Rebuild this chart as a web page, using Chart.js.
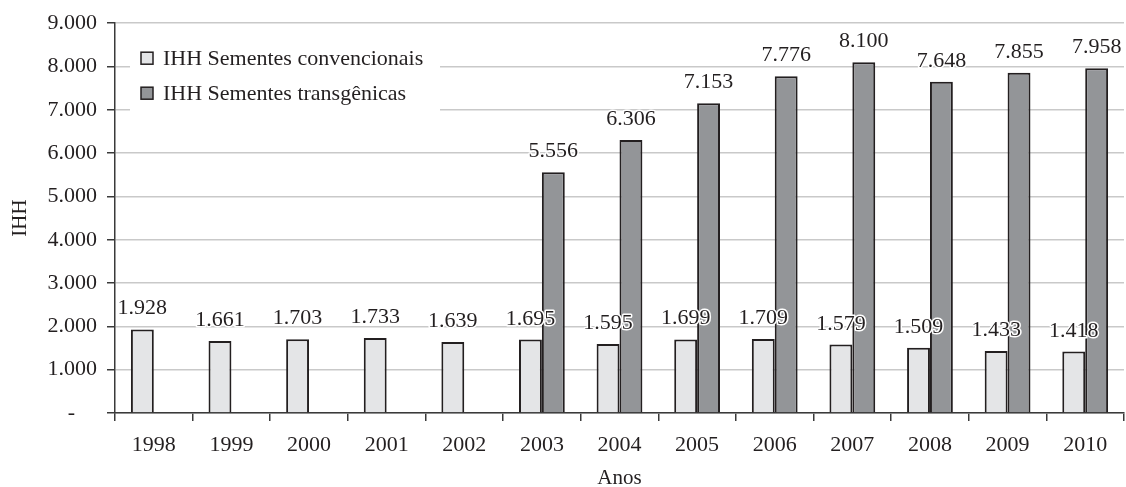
<!DOCTYPE html>
<html>
<head>
<meta charset="utf-8">
<script src="https://cdn.jsdelivr.net/npm/chart.js@4"></script>
<style>
    html, body { margin: 0; padding: 0; background: #fff; }
    #wrap { width: 1126px; height: 487px; }
</style>
</head>
<body>
<div id="wrap"><canvas id="chart"></canvas></div>
<script>
// Data
const years = ['1998', '1999', '2000', '2001', '2002', '2003', '2004', '2005', '2006', '2007', '2008', '2009', '2010'];
const ihhConvencionais = [1928, 1661, 1703, 1733, 1639, 1695, 1595, 1699, 1709, 1579, 1509, 1433, 1418];
const ihhTransgenicas = [null, null, null, null, null, 5556, 6306, 7153, 7776, 8100, 7648, 7855, 7958];
const yTicks = [0, 1000, 2000, 3000, 4000, 5000, 6000, 7000, 8000, 9000];

const SERIF = '"Liberation Serif", "DejaVu Serif", serif';
const INK = '#231f20';

// 9000 -> "9.000", 0 -> "-"
function fmt(v) {
    if (v === 0) return '-';
    return String(Math.round(v)).replace(/\B(?=(\d{3})+(?!\d))/g, '.');
}

// Value labels with a white halo, like the printed figure
const valueLabels = {
    id: 'valueLabels',
    afterDatasetsDraw(chart) {
        const ctx = chart.ctx;
        ctx.save();
        ctx.font = '22px ' + SERIF;
        ctx.textAlign = 'center';
        ctx.textBaseline = 'alphabetic';
        ctx.lineJoin = 'round';
        chart.data.datasets.forEach((ds, i) => {
            const meta = chart.getDatasetMeta(i);
            meta.data.forEach((bar, j) => {
                const v = ds.data[j];
                if (v === null || v === undefined) return;
                const text = fmt(v);
                const y = bar.y - 15;
                ctx.strokeStyle = '#fff';
                ctx.lineWidth = 3;
                ctx.strokeText(text, bar.x, y);
                ctx.fillStyle = INK;
                ctx.fillText(text, bar.x, y);
            });
        });
        ctx.restore();
    }
};

// Legend box inside the plot, top left, on a white ground
const boxLegend = {
    id: 'boxLegend',
    afterDatasetsDraw(chart) {
        const ctx = chart.ctx;
        const area = chart.chartArea;
        const x0 = area.left + 15;
        const y0 = area.top + 14;
        ctx.save();
        ctx.fillStyle = '#fff';
        ctx.fillRect(x0, y0, 310, 80);
        ctx.font = '22px ' + SERIF;
        ctx.textBaseline = 'middle';
        chart.data.datasets.forEach((ds, i) => {
            const cy = y0 + 21 + i * 35;
            ctx.fillStyle = ds.backgroundColor;
            ctx.fillRect(x0 + 11, cy - 6, 12, 12);
            ctx.strokeStyle = INK;
            ctx.lineWidth = 1.5;
            ctx.strokeRect(x0 + 11, cy - 6, 12, 12);
            ctx.fillStyle = INK;
            ctx.fillText(ds.label, x0 + 33, cy + 1);
        });
        ctx.restore();
    }
};

const ctx = document.getElementById('chart').getContext('2d');
new Chart(ctx, {
    type: 'bar',
    data: {
        labels: years,
        datasets: [
            {
                label: 'IHH Sementes convencionais',
                data: ihhConvencionais,
                backgroundColor: '#e4e5e7',
                borderColor: INK,
                borderWidth: 2,
                categoryPercentage: 0.59,
                barPercentage: 1.0
            },
            {
                label: 'IHH Sementes transgênicas',
                data: ihhTransgenicas,
                backgroundColor: '#939598',
                borderColor: INK,
                borderWidth: 2,
                categoryPercentage: 0.59,
                barPercentage: 1.0
            }
        ]
    },
    options: {
        responsive: true,
        maintainAspectRatio: false,
        animation: false,
        layout: { padding: { left: 0, right: 2, top: 23, bottom: 0 } },
        plugins: {
            legend: { display: false },
            tooltip: { enabled: false }
        },
        scales: {
            x: {
                grid: {
                    offset: true,
                    drawOnChartArea: false,
                    drawTicks: true,
                    tickLength: 8,
                    color: '#3a3a3a',
                    lineWidth: 1.5
                },
                border: { color: '#3a3a3a', width: 1.5 },
                ticks: {
                    color: INK,
                    padding: 11,
                    font: { family: SERIF, size: 22 }
                },
                title: {
                    display: true,
                    text: 'Anos',
                    color: INK,
                    padding: { top: 8, bottom: -4 },
                    font: { family: SERIF, size: 21 }
                },
                afterFit(scale) { scale.height = 74; }
            },
            y: {
                min: 0,
                max: 9000,
                afterBuildTicks(scale) {
                    scale.ticks = yTicks.map(v => ({ value: v }));
                },
                grid: {
                    color: '#c9c9c9',
                    lineWidth: 1.5,
                    tickLength: 8,
                    tickColor: '#3a3a3a'
                },
                border: { color: '#3a3a3a', width: 1.5 },
                ticks: {
                    color: INK,
                    padding: 10,
                    font: { family: SERIF, size: 22 },
                    // the zero dash sits further left, as in accounting format
                    callback: v => v === 0 ? '-    ' : fmt(v)
                },
                title: {
                    display: true,
                    text: 'IHH',
                    color: INK,
                    padding: { top: 8, bottom: 0 },
                    font: { family: SERIF, size: 21 }
                },
                afterFit(scale) { scale.width = 115; }
            }
        }
    },
    plugins: [valueLabels, boxLegend]
});
</script>
</body>
</html>
